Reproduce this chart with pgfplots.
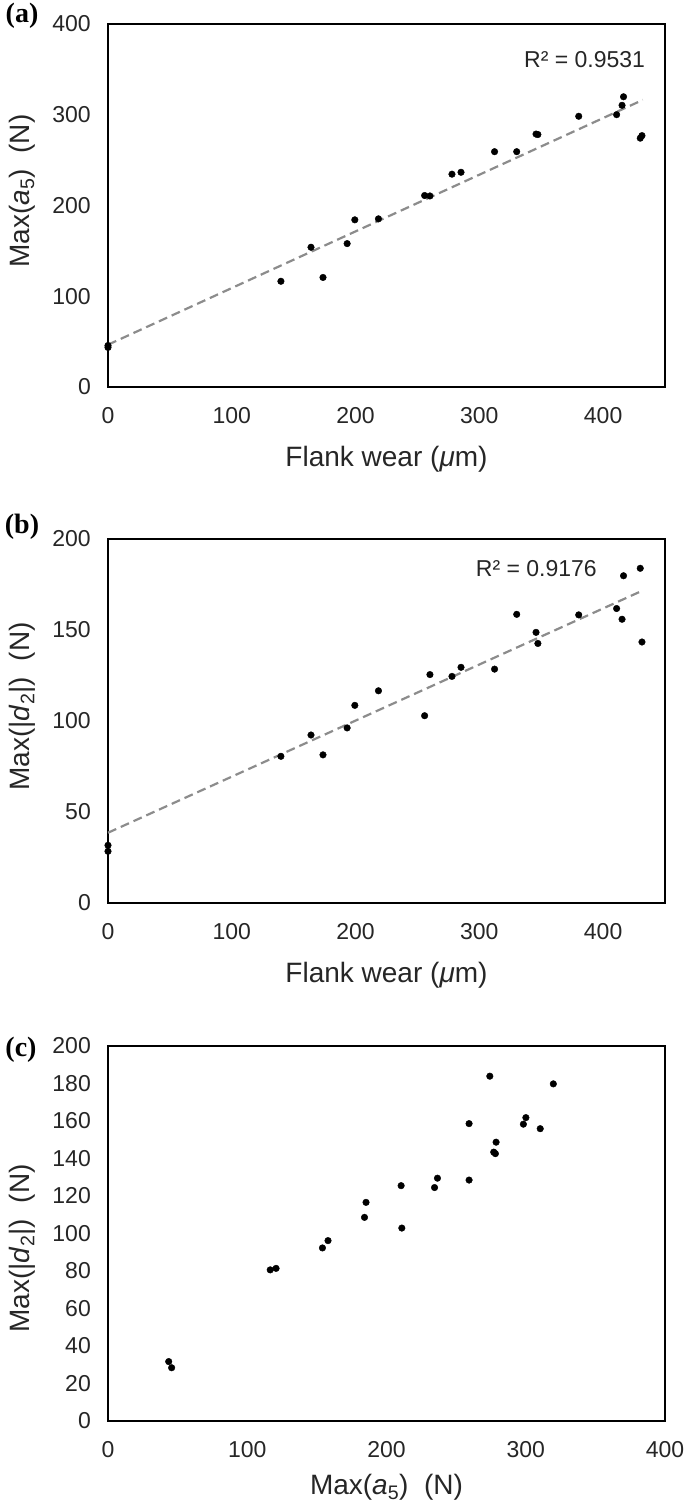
\documentclass[border=0pt]{standalone}
\usepackage{fontspec}
\setmainfont{Liberation Sans}
\newfontfamily\panelfont{Liberation Serif}
\usepackage{pgfplots}
\usepackage{pgfplotstable}
\pgfplotsset{compat=1.18}
\definecolor{trend}{RGB}{140,140,140}
\definecolor{txt}{RGB}{38,38,38}

\pgfplotstableread{
flank a5 d2
0 43.6 31.7
0 45.7 28.4
139.7 116.5 80.6
164.0 154.0 92.3
173.7 120.7 81.4
193.2 158.0 96.2
199.4 184.2 108.6
218.5 185.3 116.6
255.8 211.0 102.9
260.1 210.5 125.5
277.9 234.5 124.5
285.2 236.6 129.5
312.3 259.3 128.5
330.2 259.3 158.6
345.8 278.7 148.7
347.3 278.2 142.6
380.3 298.3 158.3
410.9 300.1 161.8
415.3 310.4 155.9
416.5 319.8 179.8
430.0 274.2 183.9
431.4 277.0 143.4
}\data

\pgfplotsset{
  panel/.style={
    scale only axis, anchor=south west, clip=false,
    axis line style={line width=2.8pt, black},
    major tick length=0pt,
    tick label style={font=\fontsize{23}{27}\selectfont, text=txt, /pgf/number format/assume math mode=true},
    yticklabel style={inner sep=0pt, anchor=east, xshift=-17pt},
    xticklabel style={inner sep=0pt, anchor=north, yshift=-20pt},
    label style={font=\fontsize{28}{32}\selectfont, text=txt},
    scaled ticks=false,
  },
  dots/.style={only marks, mark=*, mark size=3.3pt, black},
  trendl/.style={trend, line width=2.2pt, dash pattern=on 9pt off 5pt},
}

\begin{document}
\begin{tikzpicture}
\useasboundingbox (0,0) rectangle (685pt,1505pt);

% (a)
\begin{axis}[panel, at={(108pt,1118pt)}, width=557pt, height=363pt,
  xmin=0, xmax=450, ymin=0, ymax=400,
  xtick={0,100,200,300,400}, ytick={0,100,200,300,400},
  xlabel={Flank wear (\textit{μ}m)},
  xlabel style={at={(axis description cs:0.5,0)}, anchor=center, yshift=-72pt},
  ylabel={Max(\textit{a}\textsubscript{5})\ \ (N)},
  ylabel style={at={(axis description cs:-0.1544,0.54)}, anchor=center},
]
\addplot[trendl] coordinates {(0,46.6) (432,316.3)};
\addplot[dots] table[x=flank, y=a5] {\data};
\node[anchor=east, inner sep=0pt, text=txt, font=\fontsize{23}{27}\selectfont] at (axis cs:434,361) {R² = 0.9531};
\end{axis}

% (b)
\begin{axis}[panel, at={(108pt,602pt)}, width=557pt, height=364pt,
  xmin=0, xmax=450, ymin=0, ymax=200,
  xtick={0,100,200,300,400}, ytick={0,50,100,150,200},
  xlabel={Flank wear (\textit{μ}m)},
  xlabel style={at={(axis description cs:0.5,0)}, anchor=center, yshift=-72pt},
  ylabel={Max(|\textit{d}\textsubscript{2}|)\ \ (N)},
  ylabel style={at={(axis description cs:-0.1544,0.54)}, anchor=center},
]
\addplot[trendl] coordinates {(0,38.6) (432,171.7)};
\addplot[dots] table[x=flank, y=d2] {\data};
\node[anchor=east, inner sep=0pt, text=txt, font=\fontsize{23}{27}\selectfont] at (axis cs:395,184) {R² = 0.9176};
\end{axis}

% (c)
\begin{axis}[panel, at={(108pt,84pt)}, width=557pt, height=375pt,
  xmin=0, xmax=400, ymin=0, ymax=200,
  xtick={0,100,200,300,400}, ytick={0,20,...,200},
  xlabel={Max(\textit{a}\textsubscript{5})\ \ (N)},
  xlabel style={at={(axis description cs:0.5,0)}, anchor=center, yshift=-66pt},
  ylabel={Max(|\textit{d}\textsubscript{2}|)\ \ (N)},
  ylabel style={at={(axis description cs:-0.1544,0.46)}, anchor=center},
]
\addplot[dots] table[x=a5, y=d2] {\data};
\end{axis}

\node[font=\panelfont\bfseries\fontsize{28}{32}\selectfont] at (22pt,1489pt) {(a)};
\node[font=\panelfont\bfseries\fontsize{28}{32}\selectfont] at (22pt,978pt) {(b)};
\node[font=\panelfont\bfseries\fontsize{28}{32}\selectfont] at (21pt,455pt) {(c)};
\end{tikzpicture}
\end{document}
